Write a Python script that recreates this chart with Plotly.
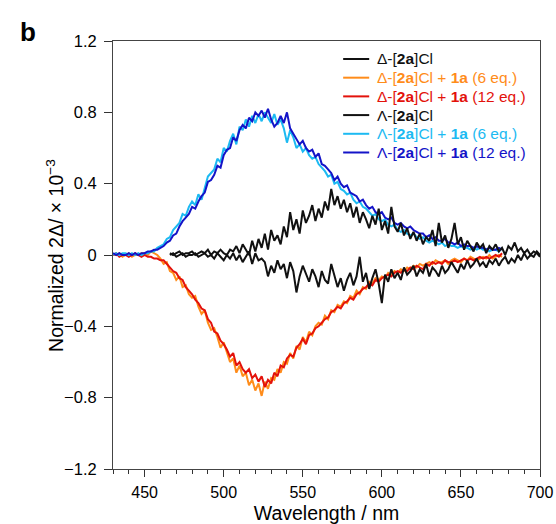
import plotly.graph_objects as go

# wavelength grids (nm)
wl_color = list(range(430, 677, 2))
wl_black = list(range(466, 701, 2))

# Δ-[2a]Cl + 1a (6 eq.)  (orange)
delta_6eq = [
    0.00, 0.00, 0.01, -0.01, 0.00, 0.01, -0.01, 0.00, 0.00, 0.01,
    0.01, 0.00, 0.02, 0.01, 0.00, -0.02, -0.05, -0.04, -0.09, -0.10,
    -0.14, -0.12, -0.18, -0.17, -0.22, -0.24, -0.23, -0.29, -0.33, -0.31,
    -0.38, -0.42, -0.41, -0.46, -0.52, -0.49, -0.55, -0.60, -0.58, -0.66,
    -0.62, -0.68, -0.66, -0.73, -0.70, -0.76, -0.72, -0.79, -0.71, -0.75,
    -0.69, -0.70, -0.64, -0.66, -0.60, -0.61, -0.55, -0.58, -0.51, -0.53,
    -0.46, -0.49, -0.43, -0.45, -0.40, -0.38, -0.39, -0.34, -0.36, -0.31,
    -0.32, -0.28, -0.29, -0.26, -0.27, -0.23, -0.24, -0.20, -0.22, -0.18,
    -0.19, -0.15, -0.16, -0.13, -0.14, -0.12, -0.13, -0.10, -0.11, -0.09,
    -0.10, -0.08, -0.09, -0.07, -0.08, -0.06, -0.07, -0.05, -0.06, -0.05,
    -0.04, -0.05, -0.03, -0.04, -0.04, -0.03, -0.05, -0.03, -0.02, -0.03,
    -0.04, -0.02, -0.03, -0.01, -0.02, -0.03, -0.02, -0.01, -0.02, 0.00,
    -0.02, -0.01, 0.00, -0.01,
]

# Δ-[2a]Cl + 1a (12 eq.)  (red)
delta_12eq = [
    0.00, 0.01, -0.01, 0.00, 0.00, -0.01, 0.00, 0.01, 0.00, -0.01,
    0.00, -0.01, -0.01, -0.02, -0.02, -0.03, -0.03, -0.05, -0.07, -0.09,
    -0.10, -0.13, -0.14, -0.18, -0.20, -0.22, -0.25, -0.27, -0.30, -0.31,
    -0.36, -0.38, -0.43, -0.44, -0.48, -0.50, -0.53, -0.57, -0.55, -0.62,
    -0.60, -0.64, -0.66, -0.64, -0.69, -0.67, -0.71, -0.68, -0.74, -0.70,
    -0.72, -0.66, -0.68, -0.62, -0.63, -0.58, -0.56, -0.57, -0.52, -0.50,
    -0.47, -0.50, -0.45, -0.44, -0.41, -0.40, -0.38, -0.36, -0.35, -0.32,
    -0.31, -0.29, -0.30, -0.27, -0.26, -0.24, -0.25, -0.22, -0.21, -0.19,
    -0.18, -0.16, -0.17, -0.14, -0.15, -0.13, -0.12, -0.11, -0.12, -0.10,
    -0.09, -0.10, -0.08, -0.09, -0.07, -0.08, -0.06, -0.07, -0.08, -0.05,
    -0.06, -0.04, -0.05, -0.04, -0.05, -0.03, -0.04, -0.04, -0.03, -0.04,
    -0.03, -0.02, -0.03, -0.02, -0.03, -0.02, -0.01, -0.02, -0.01, -0.02,
    -0.01, 0.00, -0.01, 0.01,
]

# Λ-[2a]Cl + 1a (6 eq.)  (cyan)
lambda_6eq = [
    0.00, 0.01, 0.00, 0.01, 0.01, 0.00, 0.01, 0.00, 0.01, 0.00,
    0.01, 0.01, 0.02, 0.02, 0.04, 0.05, 0.06, 0.09, 0.10, 0.14,
    0.16, 0.18, 0.23, 0.22, 0.27, 0.30, 0.28, 0.34, 0.31, 0.38,
    0.44, 0.46, 0.48, 0.54, 0.52, 0.60, 0.58, 0.64, 0.68, 0.62,
    0.72, 0.70, 0.76, 0.72, 0.78, 0.74, 0.79, 0.75, 0.80, 0.77,
    0.74, 0.79, 0.73, 0.76, 0.71, 0.63, 0.70, 0.66, 0.60, 0.62,
    0.58, 0.60, 0.56, 0.54, 0.55, 0.51, 0.49, 0.47, 0.44, 0.45,
    0.40, 0.41, 0.37, 0.36, 0.34, 0.35, 0.31, 0.29, 0.30, 0.27,
    0.26, 0.24, 0.22, 0.23, 0.20, 0.19, 0.20, 0.17, 0.16, 0.17,
    0.14, 0.13, 0.14, 0.12, 0.11, 0.12, 0.10, 0.09, 0.10, 0.08,
    0.07, 0.08, 0.07, 0.06, 0.07, 0.05, 0.06, 0.05, 0.05, 0.04,
    0.05, 0.04, 0.04, 0.03, 0.04, 0.03, 0.04, 0.03, 0.03, 0.02,
    0.03, 0.03, 0.02, 0.04,
]

# Λ-[2a]Cl + 1a (12 eq.)  (blue)
lambda_12eq = [
    0.01, 0.00, 0.01, 0.00, 0.00, 0.01, 0.00, 0.01, 0.00, 0.01,
    0.01, 0.02, 0.02, 0.03, 0.03, 0.04, 0.05, 0.07, 0.08, 0.11,
    0.12, 0.16, 0.19, 0.21, 0.23, 0.27, 0.26, 0.30, 0.33, 0.35,
    0.41, 0.42, 0.45, 0.50, 0.49, 0.56, 0.59, 0.60, 0.66, 0.64,
    0.70, 0.73, 0.71, 0.77, 0.75, 0.80, 0.78, 0.81, 0.77, 0.82,
    0.76, 0.72, 0.74, 0.78, 0.74, 0.80, 0.71, 0.68, 0.65, 0.62,
    0.64, 0.60, 0.58, 0.59, 0.55, 0.57, 0.51, 0.50, 0.48, 0.46,
    0.42, 0.44, 0.40, 0.38, 0.39, 0.35, 0.34, 0.33, 0.30, 0.31,
    0.28, 0.26, 0.27, 0.24, 0.23, 0.24, 0.21, 0.20, 0.21, 0.18,
    0.17, 0.18, 0.16, 0.15, 0.16, 0.14, 0.13, 0.12, 0.12, 0.10,
    0.11, 0.09, 0.10, 0.08, 0.08, 0.09, 0.07, 0.07, 0.06, 0.07,
    0.05, 0.06, 0.05, 0.05, 0.04, 0.05, 0.04, 0.04, 0.03, 0.04,
    0.03, 0.03, 0.04, 0.03,
]

# Δ-[2a]Cl alone (black)
delta_only = [
    0.00, 0.01, -0.01, 0.00, 0.01, -0.01, 0.00, 0.00, 0.01, -0.01,
    0.00, 0.01, -0.01, 0.00, -0.02, 0.01, -0.01, -0.03, 0.00, -0.02,
    0.01, -0.03, 0.00, -0.04, -0.01, 0.02, -0.05, 0.01, -0.03, -0.02,
    -0.04, -0.12, -0.06, -0.10, -0.03, -0.08, -0.05, -0.13, -0.04, -0.09,
    -0.21, -0.12, -0.06, -0.10, -0.15, -0.08, -0.12, -0.18, -0.09, -0.14,
    -0.16, -0.05, -0.11, -0.18, -0.13, -0.20, -0.14, -0.10, -0.17, -0.12,
    -0.01, -0.15, -0.10, -0.19, -0.13, -0.08, -0.16, -0.27, -0.11, -0.15,
    -0.08, -0.13, -0.10, -0.14, -0.07, -0.11, -0.09, -0.06, -0.12, -0.08,
    -0.10, -0.05, -0.12, -0.07, -0.09, -0.12, -0.06, -0.10, -0.08, -0.04,
    -0.07, -0.10, -0.05, -0.08, -0.03, -0.07, -0.05, -0.02, -0.06, -0.04,
    -0.07, -0.03, -0.05, -0.02, -0.06, -0.03, -0.01, -0.05, -0.02, -0.04,
    0.00, -0.03, 0.01, -0.02, 0.00, -0.01, 0.02, 0.00,
]

# Λ-[2a]Cl alone (black)
lambda_only = [
    0.01, 0.00, 0.01, 0.02, 0.00, 0.01, 0.01, 0.02, 0.00, 0.01,
    0.02, 0.01, 0.03, 0.00, 0.02, 0.01, 0.03, 0.01, 0.00, 0.03,
    0.02, 0.05, 0.01, 0.06, 0.03, 0.00, 0.08, 0.02, 0.09, 0.04,
    0.12, 0.03, 0.14, 0.08, 0.11, 0.06, 0.16, 0.10, 0.24, 0.14,
    0.20, 0.12, 0.25, 0.18, 0.22, 0.28, 0.19, 0.26, 0.21, 0.30,
    0.25, 0.37, 0.28, 0.33, 0.26, 0.31, 0.24, 0.29, 0.21, 0.27,
    0.18, 0.24, 0.20, 0.15, 0.22, 0.17, 0.26, 0.14, 0.19, 0.12,
    0.27, 0.16, 0.13, 0.18, 0.11, 0.15, 0.09, 0.13, 0.08, 0.12,
    0.06, 0.10, 0.08, 0.14, 0.05, 0.18, 0.07, 0.11, 0.04, 0.09,
    0.18, 0.06, 0.10, 0.03, 0.08, 0.05, 0.02, 0.07, 0.04, 0.06,
    0.01, 0.05, 0.03, 0.06, 0.02, 0.04, 0.00, 0.05, 0.03, 0.07,
    0.02, 0.04, 0.01, 0.03, 0.00, 0.02, 0.01, -0.01,
]

x_ticks = [450, 500, 550, 600, 650, 700]
y_ticks = [-1.2, -0.8, -0.4, 0, 0.4, 0.8, 1.2]
y_tick_labels = ["\u22121.2", "\u22120.8", "\u22120.4", "0", "0.4", "0.8", "1.2"]

C_BLACK = "#111111"
C_ORANGE = "#FF8C1A"
C_RED = "#E3120B"
C_CYAN = "#1CBAF2"
C_BLUE = "#1414C8"


def lbl(prefix, eq=None):
    txt = f'{prefix}-[<b>2a</b>]Cl'
    if eq is not None:
        txt += f' + <b>1a</b> ({eq} eq.)'
    return txt


# legend entries in legend order: (label, colour)
legend_entries = [
    (lbl("\u0394"), C_BLACK),
    (lbl("\u0394", 6), C_ORANGE),
    (lbl("\u0394", 12), C_RED),
    (lbl("\u039b"), C_BLACK),
    (lbl("\u039b", 6), C_CYAN),
    (lbl("\u039b", 12), C_BLUE),
]

# traces in drawing order: (name, x, y, colour)
series = [
    (legend_entries[1][0], wl_color, delta_6eq, C_ORANGE),
    (legend_entries[2][0], wl_color, delta_12eq, C_RED),
    (legend_entries[4][0], wl_color, lambda_6eq, C_CYAN),
    (legend_entries[5][0], wl_color, lambda_12eq, C_BLUE),
    (legend_entries[0][0], wl_black, delta_only, C_BLACK),
    (legend_entries[3][0], wl_black, lambda_only, C_BLACK),
]

fig = go.Figure()
for name, xs, ys, col in series:
    fig.add_trace(go.Scatter(
        x=xs, y=ys, mode="lines", name=name, showlegend=False,
        line=dict(color=col, width=2),
    ))

FONT = "Liberation Sans, Arial, Helvetica, sans-serif"

# hand-drawn legend (top right, inside plot)
annotations = []
shapes = []
row_top, row_step = 0.958, 0.0437
for i, (text, col) in enumerate(legend_entries):
    yy = row_top - i * row_step
    shapes.append(dict(type="line", xref="paper", yref="paper",
                       x0=0.539, x1=0.600, y0=yy, y1=yy,
                       line=dict(color=col, width=2)))
    annotations.append(dict(text=text, xref="paper", yref="paper",
                            x=0.614, y=yy, xanchor="left", yanchor="middle",
                            showarrow=False,
                            font=dict(size=15.5, color=col, family=FONT)))

# panel letter
annotations.append(dict(
    text="<b>b</b>", x=-0.222, y=1.06, xref="paper", yref="paper",
    xanchor="left", yanchor="top", showarrow=False,
    font=dict(size=26, family=FONT, color="black"),
))

# y-axis title
annotations.append(dict(
    text="Normalized 2\u0394/ \u00d7 10<sup>\u22123</sup>",
    x=-0.136, y=0.5, xref="paper", yref="paper",
    xanchor="center", yanchor="middle", textangle=-90, showarrow=False,
    font=dict(size=19.5, family=FONT, color="black"),
))

fig.update_layout(
    width=556, height=524,
    margin=dict(l=113, r=16, t=41, b=55),
    paper_bgcolor="white", plot_bgcolor="white",
    font=dict(family=FONT, color="black", size=16),
    showlegend=False,
    xaxis=dict(
        range=[430, 700], tickvals=x_ticks, automargin=False,
        ticks="outside", ticklen=7, tickwidth=1, tickcolor="#333",
        ticklabelstandoff=2,
        minor=dict(dtick=10, tick0=430, ticks="outside", ticklen=4, tickcolor="#333"),
        showline=True, linecolor="#444", linewidth=1, mirror=True,
        showgrid=False, zeroline=False,
        tickfont=dict(size=16),
        title=dict(text="Wavelength / nm", font=dict(size=19.5), standoff=6),
    ),
    yaxis=dict(
        range=[-1.2, 1.2], tickvals=y_ticks, ticktext=y_tick_labels, automargin=False,
        ticks="outside", ticklen=8, tickwidth=1, tickcolor="#333",
        ticklabelstandoff=4,
        showline=True, linecolor="#444", linewidth=1, mirror=True,
        showgrid=False, zeroline=False,
        tickfont=dict(size=16.5),
    ),
    annotations=annotations,
    shapes=shapes,
)

# remove the browser's default 8px body margin so the figure sits at the page origin
fig.write_html(
    "out.html",
    config={"displayModeBar": False},
    post_script="document.body.style.margin='0px';"
                "document.body.style.padding='0px';"
                "document.documentElement.style.overflow='hidden';",
)
